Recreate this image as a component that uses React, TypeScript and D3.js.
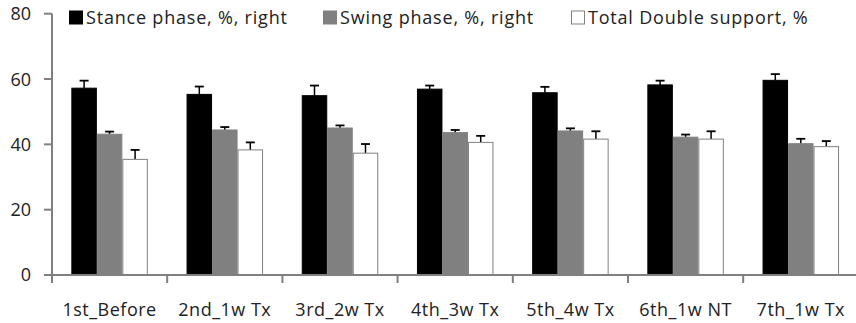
import React from "react";
import * as d3 from "d3";

const categories = ["1st_Before", "2nd_1w Tx", "3rd_2w Tx", "4th_3w Tx", "5th_4w Tx", "6th_1w NT", "7th_1w Tx"];
const seriesNames = ["Stance phase, %, right", "Swing phase, %, right", "Total Double support, %"];
const stance = [57.2, 55.3, 54.9, 56.9, 55.8, 58.2, 59.6];
const swing = [43.1, 44.4, 45.0, 43.6, 44.1, 42.2, 40.2];
const doubleSupport = [35.4, 38.3, 37.3, 40.6, 41.6, 41.6, 39.3];
const stanceErr = [2.3, 2.4, 3.1, 1.1, 1.8, 1.3, 1.9];
const swingErr = [0.8, 0.9, 0.8, 0.8, 0.8, 0.8, 1.5];
const doubleErr = [2.9, 2.3, 2.8, 2.0, 2.4, 2.4, 1.7];
const yTicks = [0, 20, 40, 60, 80];

const W = 856, H = 323;
const left = 52, right = 858.4, top = 13.7, bottom = 275;
const fills = ["#000000", "#808080", "#ffffff"];
const strokes = ["#000000", "#808080", "#808080"];
const font = "'Open Sans', 'Noto Sans', sans-serif";

export default function App() {
  const values = [stance, swing, doubleSupport];
  const errors = [stanceErr, swingErr, doubleErr];

  const x0 = d3.scaleBand().domain(categories).range([left, right]).paddingInner(0.336).paddingOuter(0.168);
  const x1 = d3.scaleBand().domain(seriesNames).range([0, x0.bandwidth()]);
  const y = d3.scaleLinear().domain([0, 80]).range([bottom, top]);
  const step = x0.step();
  const bounds = categories.map((c) => (x0(c) as number) - (step * 0.336) / 2).concat([right]);

  const legendX = [69, 323, 571];

  return (
    <svg width={W} height={H} style={{ position: "absolute", left: 0, top: 0, background: "#fff" }} fontFamily={font}>
      {/* bars */}
      {categories.map((c, i) => (
        <g key={c} transform={`translate(${x0(c)},0)`}>
          {seriesNames.map((s, j) => {
            const v = values[j][i];
            const bx = x1(s) as number;
            const bw = x1.bandwidth();
            const cx = bx + bw / 2;
            const yt = y(v + errors[j][i]);
            return (
              <g key={s}>
                <line x1={cx} x2={cx} y1={y(v)} y2={yt} stroke="#000" strokeWidth={1.5} />
                <line x1={cx - 4.5} x2={cx + 4.5} y1={yt} y2={yt} stroke="#000" strokeWidth={1.8} />
                <rect x={bx + 0.5} y={y(v)} width={bw - 1} height={bottom - y(v)} fill={fills[j]} stroke={strokes[j]} strokeWidth={1} />
              </g>
            );
          })}
        </g>
      ))}

      {/* y axis */}
      <line x1={left} x2={left} y1={top} y2={bottom} stroke="#808080" strokeWidth={2} />
      {yTicks.map((t) => (
        <g key={t}>
          <line x1={left - 8} x2={left} y1={y(t)} y2={y(t)} stroke="#808080" strokeWidth={2} />
          <text x={31} y={y(t)} dy="0.36em" textAnchor="end" fontSize={18} fill="#222">{t}</text>
        </g>
      ))}

      {/* x axis */}
      <line x1={left} x2={W} y1={bottom} y2={bottom} stroke="#808080" strokeWidth={2} />
      {bounds.map((b, i) => (
        <line key={i} x1={b} x2={b} y1={bottom} y2={bottom + 8} stroke="#808080" strokeWidth={2} />
      ))}
      {categories.map((c) => (
        <text key={c} x={(x0(c) as number) + x0.bandwidth() / 2} y={316} textAnchor="middle" fontSize={18} letterSpacing={0.5} fill="#222">{c}</text>
      ))}

      {/* legend */}
      {seriesNames.map((s, j) => (
        <g key={s}>
          <rect x={legendX[j] + 0.5} y={11} width={13} height={13} fill={fills[j]} stroke={strokes[j]} strokeWidth={1} />
          <text x={legendX[j] + 17} y={17.5} dy="0.36em" fontSize={18} letterSpacing={0.8} fill="#222">{s}</text>
        </g>
      ))}
    </svg>
  );
}
